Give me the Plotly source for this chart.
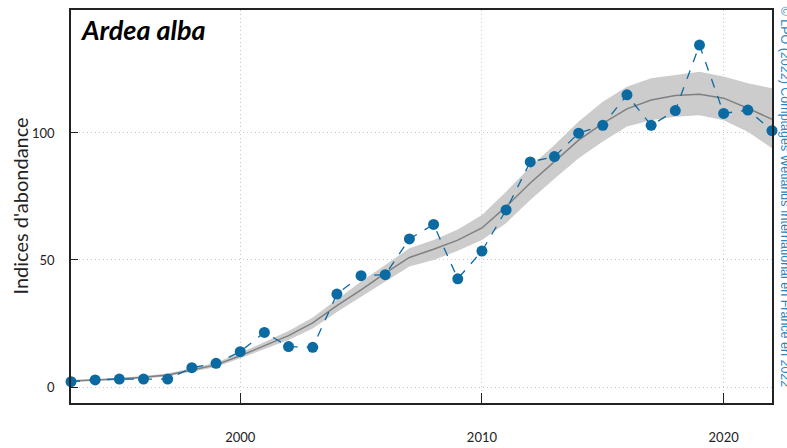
'''
    Abundance index chart for Ardea alba, with smoothed trend and its confidence band.
'''
import plotly.graph_objects as go

years = list(range(1993, 2023))

# observed indices
indices = [2.1, 2.8, 3.1, 3.1, 3.1, 7.6, 9.3, 13.9, 21.5, 15.9,
           15.6, 36.6, 43.8, 44.2, 58.3, 64.0, 42.6, 53.5, 69.7, 88.6,
           90.7, 99.9, 103.0, 115.0, 103.0, 108.8, 134.6, 107.7, 109.0, 100.9]

# smoothed trend and band
trend = [2.4, 2.8, 3.1, 3.8, 4.7, 6.7, 8.7, 12.3, 16.2, 20.2,
         25.2, 32.0, 38.2, 44.8, 51.0, 54.2, 57.8, 62.6, 71.0, 80.3,
         88.7, 97.2, 103.8, 109.5, 113.0, 114.7, 115.2, 113.7, 109.7, 105.4]
upper = [2.8, 3.2, 3.6, 4.3, 5.3, 7.4, 9.6, 13.4, 17.6, 22.0,
         27.4, 34.5, 41.5, 48.0, 54.6, 57.9, 62.0, 67.7, 76.9, 86.7,
         95.3, 104.5, 112.3, 118.2, 121.5, 122.8, 124.1, 122.2, 119.6, 117.6]
lower = [2.0, 2.4, 2.7, 3.3, 4.1, 6.0, 7.9, 11.3, 14.8, 18.5,
         23.0, 29.5, 35.5, 41.5, 47.4, 50.0, 53.6, 57.9, 64.5, 73.6,
         82.0, 90.0, 96.6, 102.5, 105.0, 106.4, 107.0, 105.0, 100.5, 94.0]

x_ticks = [2000, 2010, 2020]
y_ticks = [0, 50, 100]

species = 'Ardea alba'
y_title = "Indices d'abondance"
credit = '© LPO (2022) Comptages Wetlands International en France en 2022'

blue = '#0b6aa2'

fig = go.Figure()

# confidence band
fig.add_trace(go.Scatter(x=years, y=upper, mode='lines', line=dict(width=0),
                         hoverinfo='skip', showlegend=False))
fig.add_trace(go.Scatter(x=years, y=lower, mode='lines', line=dict(width=0),
                         fill='tonexty', fillcolor='#cccccc',
                         hoverinfo='skip', showlegend=False))
fig.add_trace(go.Scatter(x=years, y=trend, mode='lines',
                         line=dict(color='#808080', width=1.5), showlegend=False))

# observations
fig.add_trace(go.Scatter(x=years, y=indices, mode='lines+markers',
                         line=dict(color=blue, width=1.3, dash='dash'),
                         marker=dict(color=blue, size=11),
                         cliponaxis=False, showlegend=False))

fig.update_layout(
    width=787, height=448,
    margin=dict(l=71, r=15, t=10, b=45),
    plot_bgcolor='white', paper_bgcolor='white',
    font=dict(family='Lato, sans-serif', size=13, color='#222222'),
)

fig.update_xaxes(
    range=[1993, 2022], tickvals=x_ticks,
    showline=True, mirror=True, linecolor='#222222', linewidth=1.5,
    ticks='inside', ticklen=10, tickcolor='#222222',
    showgrid=True, gridcolor='#c8c8c8', griddash='1px,3px', gridwidth=1,
    ticklabelstandoff=22, zeroline=False, automargin=False,
)
fig.update_yaxes(
    range=[-6.3, 148.4], tickvals=y_ticks,
    showline=True, mirror=True, linecolor='#222222', linewidth=1.5,
    ticks='inside', ticklen=7, tickcolor='#222222',
    showgrid=True, gridcolor='#c8c8c8', griddash='1px,3px', gridwidth=1,
    ticklabelstandoff=12, zeroline=False, automargin=False,
)

# y title as an annotation so it sits where the reference puts it
fig.add_annotation(text=y_title, xref='paper', yref='paper',
                   x=0, y=0.5, xanchor='center', yanchor='middle', xshift=-52,
                   textangle=-90, showarrow=False,
                   font=dict(size=20, color='#222222'))

fig.add_annotation(text='<b><i>' + species + '</i></b>', xref='paper', yref='paper',
                   x=0.01, y=0.997, xanchor='left', yanchor='top', showarrow=False,
                   font=dict(size=27, color='black'))

fig.add_annotation(text=credit, xref='paper', yref='paper',
                   x=1.0, y=1.0, xanchor='center', yanchor='top', xshift=13, yshift=6,
                   textangle=90, showarrow=False,
                   font=dict(family='Liberation Sans, Arial', size=12.5, color='#2a86c2'))

# drop the page margin so the figure fills the window exactly
fig.write_html("out.html", config={'displayModeBar': False},
               post_script="document.body.style.margin='0';document.body.style.overflow='hidden';")
